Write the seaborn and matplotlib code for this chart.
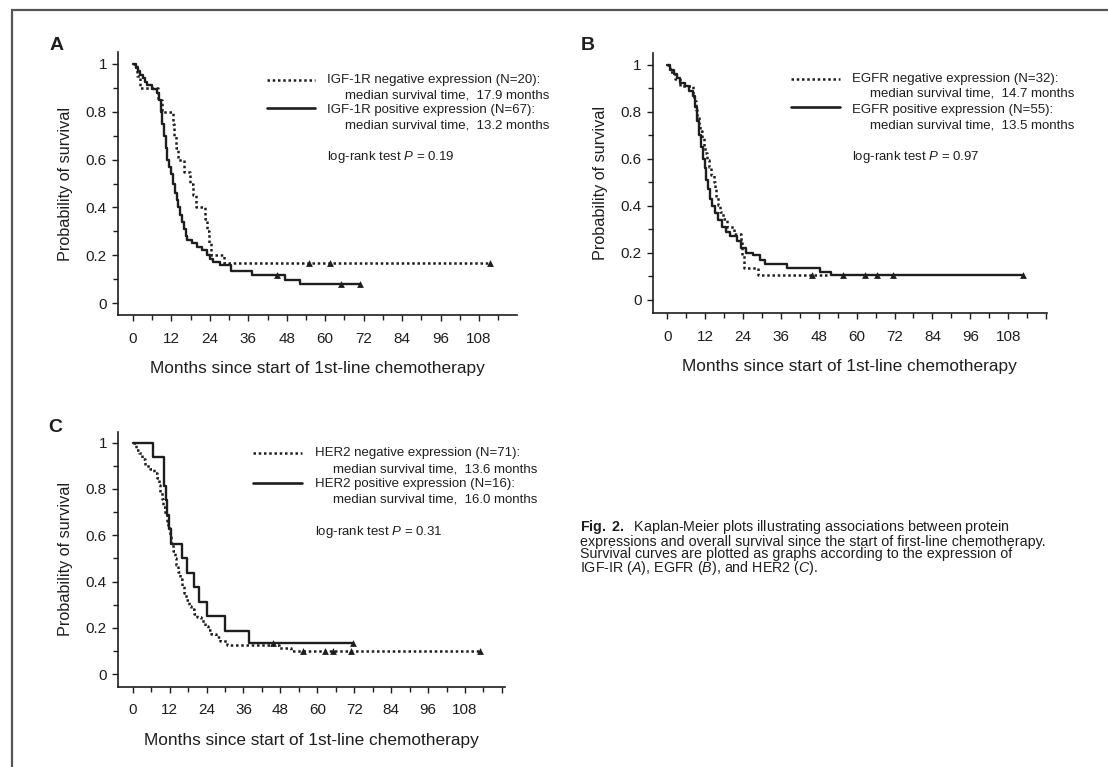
import numpy as np
import pandas as pd
import seaborn as sns
import matplotlib.pyplot as plt
from matplotlib.lines import Line2D
from matplotlib.patches import Rectangle
from matplotlib.ticker import MultipleLocator, FuncFormatter

# ---------------- data ----------------
# A: IGF-1R
a_neg_t = [0, 1.2, 2.1, 7.7, 9.0, 12.5, 12.9, 13.4, 14.2, 16.0, 17.9, 18.6, 19.6, 22.6, 23.2, 23.8, 24.2, 28.5, 111.5]
a_neg_s = [1.0, 0.95, 0.90, 0.85, 0.80, 0.75, 0.70, 0.65, 0.60, 0.55, 0.50, 0.45, 0.40, 0.35, 0.30, 0.25, 0.20, 0.167, 0.167]
a_neg_cens_t = [55.0, 61.5, 111.5]
a_neg_cens_s = [0.167, 0.167, 0.167]

a_pos_t = [0, 0.8, 1.5, 2.2, 3.0, 3.8, 4.5, 6.0, 7.5, 8.2, 8.7, 9.2, 9.7, 10.2, 10.7, 11.2, 11.8, 12.6,
           13.2, 13.7, 14.2, 14.7, 15.2, 15.8, 16.4, 17.0, 18.5, 20.0, 21.5, 23.0, 24.0, 25.0, 27.0,
           30.5, 37.0, 47.5, 52.0, 71.0]
a_pos_s = [1.0, 0.985, 0.97, 0.955, 0.94, 0.925, 0.91, 0.895, 0.88, 0.85, 0.80, 0.75, 0.70, 0.65,
           0.60, 0.57, 0.54, 0.50, 0.46, 0.43, 0.40, 0.37, 0.34, 0.31, 0.28, 0.265, 0.25, 0.235,
           0.22, 0.20, 0.185, 0.17, 0.16, 0.134, 0.116, 0.098, 0.081, 0.081]
a_pos_cens_t = [45.0, 65.0, 71.0]
a_pos_cens_s = [0.116, 0.081, 0.081]

# B: EGFR
b_neg_t = [0, 1, 2.5, 4, 8, 8.5, 9, 9.5, 10, 10.5, 11, 11.5, 12, 12.6, 13.3, 13.9, 14.7, 15.1, 15.5,
           16.0, 16.6, 17.5, 19, 21, 23.2, 23.8, 24.2, 28.7, 51]
b_neg_s = [1, 0.97, 0.94, 0.91, 0.875, 0.845, 0.81, 0.78, 0.75, 0.72, 0.69, 0.655, 0.625, 0.595,
           0.565, 0.53, 0.50, 0.47, 0.44, 0.405, 0.375, 0.345, 0.31, 0.28, 0.25, 0.19, 0.135, 0.104, 0.104]
b_neg_cens_t = [45.7]
b_neg_cens_s = [0.104]

b_pos_t = [0, 1, 2, 3, 4, 5.5, 7, 8, 8.7, 9.3, 10, 10.6, 11.2, 11.8, 12.4, 13, 13.6, 14.2, 15, 16,
           17.2, 18.5, 20, 22, 23.5, 25, 27, 29.5, 31, 38, 48.5, 52, 112.8]
b_pos_s = [1, 0.98, 0.96, 0.945, 0.925, 0.91, 0.89, 0.87, 0.82, 0.76, 0.70, 0.65, 0.60, 0.56, 0.51,
           0.47, 0.43, 0.40, 0.37, 0.34, 0.31, 0.29, 0.27, 0.25, 0.22, 0.20, 0.19, 0.17, 0.152,
           0.135, 0.12, 0.106, 0.106]
b_pos_cens_t = [55.8, 62.6, 66.3, 71.6, 112.8]
b_pos_cens_s = [0.106] * 5

# C: HER2
c_neg_t = [0, 1, 2, 3, 4, 5.5, 7, 8, 8.5, 9, 9.5, 10, 10.5, 11, 11.5, 12, 12.5, 13, 13.6, 14.2, 14.8,
           15.4, 16, 16.7, 17.4, 18.2, 19, 20, 21, 22.2, 23.5, 24.5, 25.5, 27, 28.5, 30.5, 47.5, 51.5, 113]
c_neg_s = [1, 0.97, 0.955, 0.93, 0.90, 0.885, 0.87, 0.845, 0.815, 0.785, 0.755, 0.72, 0.69, 0.66,
           0.63, 0.60, 0.56, 0.53, 0.50, 0.47, 0.44, 0.41, 0.38, 0.35, 0.32, 0.295, 0.28, 0.26,
           0.245, 0.23, 0.21, 0.19, 0.175, 0.16, 0.145, 0.125, 0.112, 0.10, 0.10]
c_neg_cens_t = [55.5, 62.5, 65.2, 71.0, 113.0]
c_neg_cens_s = [0.10] * 5

c_pos_t = [0, 6.7, 10.2, 10.8, 11.3, 11.8, 12.3, 16.0, 17.5, 20.0, 21.7, 24.0, 30.0, 37.9, 71.5]
c_pos_s = [1, 0.9375, 0.8125, 0.75, 0.6875, 0.625, 0.5625, 0.5, 0.4375, 0.375, 0.3125, 0.25,
           0.1875, 0.135, 0.135]
c_pos_cens_t = [45.7, 71.5]
c_pos_cens_s = [0.135, 0.135]

legend_a = ["IGF-1R negative expression (N=20):", "median survival time,  17.9 months",
            "IGF-1R positive expression (N=67):", "median survival time,  13.2 months"]
legend_b = ["EGFR negative expression (N=32):", "median survival time,  14.7 months",
            "EGFR positive expression (N=55):", "median survival time,  13.5 months"]
legend_c = ["HER2 negative expression (N=71):", "median survival time,  13.6 months",
            "HER2 positive expression (N=16):", "median survival time,  16.0 months"]
pvals = ["0.19", "0.97", "0.31"]

caption = [r"$\bf{Fig.\ 2.}$  Kaplan-Meier plots illustrating associations between protein",
           "expressions and overall survival since the start of first-line chemotherapy.",
           "Survival curves are plotted as graphs according to the expression of",
           r"IGF-IR ($\it{A}$), EGFR ($\it{B}$), and HER2 ($\it{C}$)."]

# ---------------- style ----------------
sns.set_style("ticks")
plt.rcParams['font.family'] = ['Liberation Sans', 'DejaVu Sans']
plt.rcParams['mathtext.fontset'] = 'custom'
plt.rcParams['mathtext.rm'] = 'Liberation Sans'
plt.rcParams['mathtext.it'] = 'Liberation Sans:italic'
plt.rcParams['mathtext.bf'] = 'Liberation Sans:bold'

INK = '#1e1e1e'
W, H = 1108, 767
fig = plt.figure(figsize=(W / 100, H / 100), dpi=100, facecolor='white')


def fx(x):
    return x / W


def fy(y):
    return 1 - y / H


# frame of the scanned page
fig.add_artist(Rectangle((fx(12), fy(1000)), 2.0, (1000 - 10) / H, transform=fig.transFigure,
                         fill=False, edgecolor='#555555', linewidth=1.6))

panels = [
    dict(box=(118, 52, 517, 315), xlim=(-4.68, 119.85), ylim=(-0.05, 1.05),
         neg=(a_neg_t, a_neg_s, a_neg_cens_t, a_neg_cens_s),
         pos=(a_pos_t, a_pos_s, a_pos_cens_t, a_pos_cens_s),
         letter=('A', 57, 45), leg=legend_a, p=pvals[0],
         key=(267, 315, 80, 108), tx=(327, 345), ty=(80, 95, 110, 126, 157)),
    dict(box=(652.7, 53, 1046.7, 313.3), xlim=(-4.62, 120.2), ylim=(-0.057, 1.051),
         neg=(b_neg_t, b_neg_s, b_neg_cens_t, b_neg_cens_s),
         pos=(b_pos_t, b_pos_s, b_pos_cens_t, b_pos_cens_s),
         letter=('B', 588, 45), leg=legend_b, p=pvals[1],
         key=(791, 840, 79, 107), tx=(852, 870), ty=(79, 93.5, 109.5, 125, 157)),
    dict(box=(118, 431.7, 505, 686.7), xlim=(-4.78, 121.0), ylim=(-0.054, 1.047),
         neg=(c_neg_t, c_neg_s, c_neg_cens_t, c_neg_cens_s),
         pos=(c_pos_t, c_pos_s, c_pos_cens_t, c_pos_cens_s),
         letter=('C', 55, 428), leg=legend_c, p=pvals[2],
         key=(253, 302, 453, 483), tx=(315, 333), ty=(453, 469, 484.5, 500, 532)),
]

DOT = (0, (1, 1.1))

for pn in panels:
    x0, y0, x1, y1 = pn['box']
    ax = fig.add_axes([fx(x0), fy(y1), (x1 - x0) / W, (y1 - y0) / H])
    ax.set_facecolor('none')

    nt, ns, nct, ncs = pn['neg']
    pt, ps, pct, pcs = pn['pos']
    sns.lineplot(x=nt, y=ns, ax=ax, estimator=None, sort=False, drawstyle='steps-post',
                 color=INK, linewidth=1.8, linestyle=DOT)
    sns.lineplot(x=pt, y=ps, ax=ax, estimator=None, sort=False, drawstyle='steps-post',
                 color=INK, linewidth=1.7)
    sns.scatterplot(x=nct + pct, y=ncs + pcs, ax=ax, marker='^', s=24, color=INK, linewidth=0)

    ax.set_xlim(*pn['xlim'])
    ax.set_ylim(*pn['ylim'])
    ax.xaxis.set_major_locator(MultipleLocator(12))
    ax.xaxis.set_minor_locator(MultipleLocator(6))
    ax.yaxis.set_major_locator(MultipleLocator(0.2))
    ax.yaxis.set_minor_locator(MultipleLocator(0.1))
    ax.yaxis.set_major_formatter(FuncFormatter(lambda v, _: '%g' % round(v, 1)))
    ax.xaxis.set_major_formatter(FuncFormatter(lambda v, _: '%d' % v if 0 <= v <= 108 else ''))
    ax.tick_params(axis='both', which='both', direction='out', color=INK, width=1.0)
    ax.tick_params(axis='both', which='major', length=4, labelsize=11, labelcolor=INK)
    ax.tick_params(axis='both', which='minor', length=3.5)
    ax.tick_params(axis='x', which='major', pad=8)
    ax.tick_params(axis='y', which='major', pad=4)
    sns.despine(ax=ax)
    for s in ('left', 'bottom'):
        ax.spines[s].set_linewidth(1.2)
        ax.spines[s].set_color(INK)
    ax.set_xlabel('Months since start of 1st-line chemotherapy', fontsize=12.4, color=INK, labelpad=11)
    ax.set_ylabel('Probability of survival', fontsize=11.7, color=INK, labelpad=9)

    # panel letter
    lt, lx, ly = pn['letter']
    fig.text(fx(lx), fy(ly), lt, fontsize=14, fontweight='bold', color=INK, ha='center', va='center')

    # key lines and labels
    kx0, kx1, ky0, ky1 = pn['key']
    fig.add_artist(Line2D([fx(kx0), fx(kx1)], [fy(ky0)] * 2, transform=fig.transFigure,
                          color=INK, linewidth=1.8, linestyle=DOT))
    fig.add_artist(Line2D([fx(kx0), fx(kx1)], [fy(ky1)] * 2, transform=fig.transFigure,
                          color=INK, linewidth=1.9))
    tx0, tx1 = pn['tx']
    ty = pn['ty']
    for i, txt in enumerate(pn['leg']):
        fig.text(fx(tx1 if i % 2 else tx0), fy(ty[i]), txt, fontsize=9.5, color=INK,
                 ha='left', va='center')
    fig.text(fx(tx0), fy(ty[4]), 'log-rank test $P$ = ' + pn['p'], fontsize=9.5, color=INK,
             ha='left', va='center')

# caption as one text block
fig.text(fx(580), fy(547.8), '\n'.join(caption), fontsize=10.3, color=INK,
         ha='left', va='center', linespacing=0.86)

fig.savefig('out.png', dpi=100, facecolor='white')
